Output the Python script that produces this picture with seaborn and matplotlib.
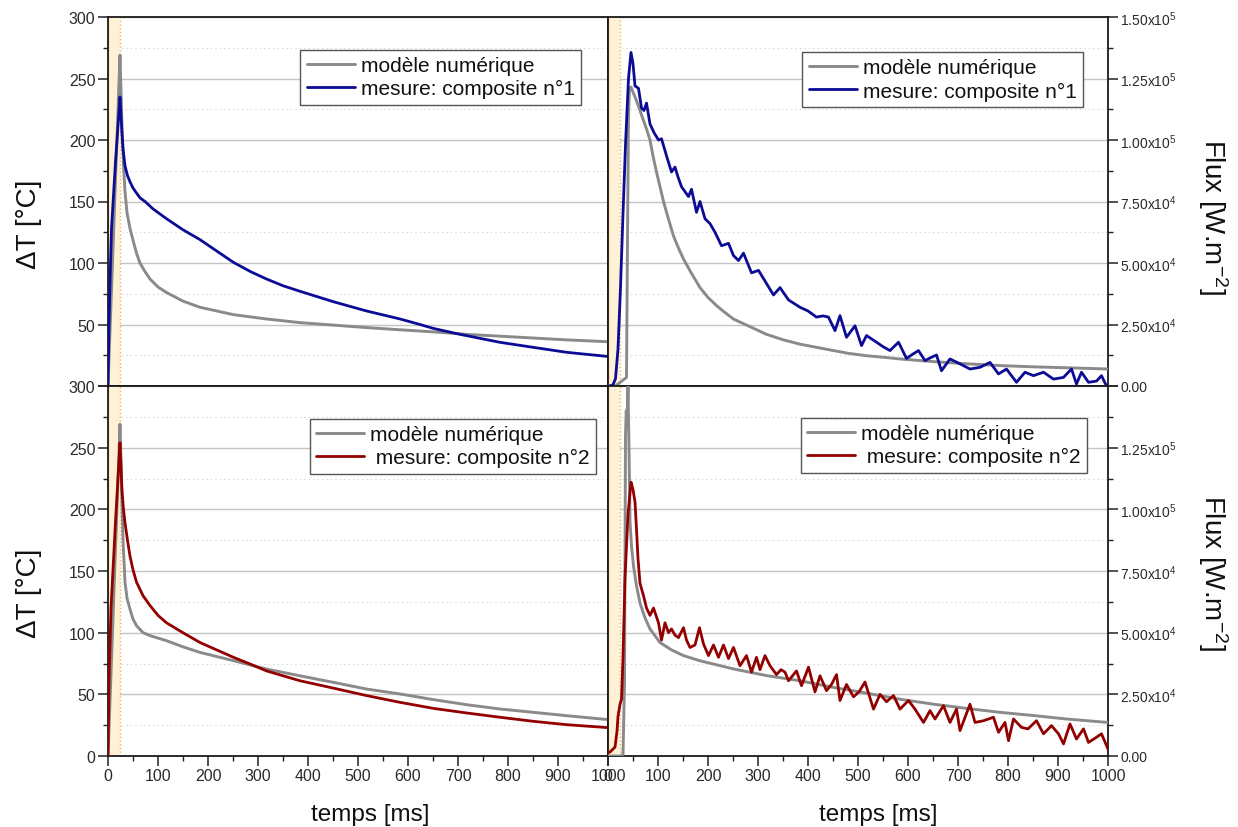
import numpy as np
import pandas as pd
import matplotlib
matplotlib.use("Agg")
import matplotlib.pyplot as plt
from matplotlib.ticker import MultipleLocator, FuncFormatter
import seaborn as sns

# ---------------- data ----------------
# Top-left: temperature, composite n°1
t_model_T1 = [0, 24, 26, 28, 31, 34, 38, 44, 51, 57, 64, 74, 84, 100, 117, 150, 184, 251,
              317, 384, 451, 517, 584, 651, 717, 784, 851, 917, 1000]
v_model_T1 = [0, 269, 240, 212, 180, 158, 141, 128, 117, 108, 100, 93, 87, 80.5, 76, 69,
              64, 58, 54.5, 51.5, 49.5, 47.5, 45.7, 44, 42, 40.5, 39, 37.5, 36]
t_meas_T1 = [0, 2, 5, 7, 15, 24, 26, 28, 30, 34, 39, 44, 50, 55, 64, 74, 90, 117, 150, 184,
             220, 251, 285, 317, 350, 384, 451, 517, 584, 624, 651, 704, 784, 851, 917,
             1000]
v_meas_T1 = [0, 50, 100, 128, 182, 235, 220, 205, 193, 179, 171, 166, 161, 158, 153, 150,
             144, 136, 127, 119, 109, 100.5, 93, 87, 81.5, 77, 68.5, 61, 54.5, 50, 46.8,
             42, 35.5, 31.4, 27.4, 24]

# Bottom-left: temperature, composite n°2
t_model_T2 = [0, 24, 26, 28, 30, 34, 38, 44, 50, 57, 70, 84, 117, 150, 184, 251, 317, 384,
              451, 517, 584, 651, 717, 784, 851, 917, 1000]
v_model_T2 = [0, 269, 240, 205, 175, 141, 128, 119, 111, 105.7, 100, 97.6, 93.5, 88.5,
              84, 77.3, 70.5, 65, 59.7, 54.3, 50.3, 45.7, 41.6, 38.1, 35.4, 32.7, 29.5]
t_meas_T2 = [0, 2, 6, 15, 24, 26, 28, 31, 34, 39, 44, 50, 57, 70, 84, 100, 117, 151, 184,
             251, 284, 317, 384, 451, 517, 584, 651, 717, 784, 851, 917, 1000]
v_meas_T2 = [0, 60, 120, 190, 254, 235, 215, 200, 189, 175, 162, 151, 141, 130, 122, 114,
             108, 99.7, 92, 80, 74.6, 69, 61, 55, 49, 43.5, 38.6, 34.9, 31.4, 28.1, 25.4,
             23]

# Top-right: flux, composite n°1
t_model_F1 = [0, 15, 37, 39, 41, 43, 46, 51, 56, 64, 70, 77, 84, 90, 97, 104, 111, 120,
              131, 140, 151, 165, 184, 200, 217, 230, 251, 280, 317, 350, 384, 420, 451,
              480, 517, 550, 584, 620, 651, 720, 784, 850, 920, 1000]
v_model_F1 = [0, 0, 3500, 60000, 110000, 121000, 121500, 119000, 116500, 112000, 108500,
              104500, 100000, 93500, 87000, 81000, 75000, 68500, 61000, 56500, 51600,
              46500, 40000, 36000, 32700, 30500, 27200, 24500, 21000, 18800, 17000, 15600,
              14400, 13300, 12300, 11700, 11000, 10400, 9900, 9000, 8300, 7800, 7400, 6900]
t_meas_F1 = [0, 4, 10, 15, 20, 25, 30, 35, 41, 46, 50, 54, 61, 67, 72, 77, 84, 92, 101,
             107, 117, 127, 134, 140, 147, 161, 167, 177, 184, 194, 204, 214, 227, 241,
             251, 261, 271, 287, 301, 316, 331, 344, 361, 384, 400, 417, 430, 441, 454,
             464, 477, 494, 507, 517, 537, 550, 564, 581, 597, 610, 621, 634, 645, 657,
             667, 684, 704, 724, 744, 764, 781, 797, 817, 834, 851, 871, 891, 911, 927,
             937, 947, 961, 977, 987, 997, 1000]
v_meas_F1 = [0, 0, 500, 3000, 15000, 40000, 70000, 98000, 125000, 135600, 131000, 122000,
             121000, 113000, 112000, 115000, 106500, 103000, 100000, 100500, 93600, 87000,
             89000, 85000, 81000, 77000, 80000, 70600, 75000, 68000, 66000, 62500, 57000,
             58000, 53000, 51000, 54000, 46000, 47000, 42000, 37000, 40000, 35000, 32000,
             30500, 28000, 28500, 28000, 22500, 28600, 19800, 24500, 16400, 20500, 17800,
             16000, 14400, 17800, 11200, 13000, 14400, 10300, 11500, 12600, 6200, 11000,
             9000, 6900, 7600, 9600, 4900, 6900, 1500, 5600, 4200, 5600, 2800, 3500, 6900,
             800, 5600, 1500, 2000, 4200, 0, 0]

# Bottom-right: flux, composite n°2
t_model_F2 = [0, 25, 30, 33, 35, 36.5, 38, 40, 42, 44, 47, 51, 57, 64, 74, 84, 104, 127,
              151, 184, 251, 317, 384, 451, 517, 584, 651, 717, 784, 851, 917, 1000]
v_model_F2 = [0, 0, 500, 30000, 130000, 140000, 135000, 150000, 125000, 95000, 85000,
              77000, 69000, 62000, 56000, 51500, 46000, 43000, 40700, 38600, 35300, 32600,
              30500, 27800, 25500, 23000, 21000, 19300, 17700, 16400, 15000, 13600]
t_meas_F2 = [0, 4, 14, 18, 20, 24, 27, 30, 34, 40, 46, 50, 54, 57, 60, 64, 71, 77, 84, 91,
             101, 107, 114, 121, 127, 134, 141, 151, 157, 164, 174, 183, 191, 201, 211,
             221, 231, 241, 251, 264, 277, 287, 297, 304, 314, 324, 337, 346, 354, 361,
             377, 387, 401, 414, 424, 437, 447, 457, 464, 477, 491, 502, 514, 531, 544,
             557, 571, 584, 601, 614, 631, 644, 654, 671, 684, 697, 704, 724, 734, 751,
             771, 781, 794, 801, 811, 827, 840, 857, 871, 887, 901, 911, 924, 937, 951,
             961, 977, 987, 1000]
v_meas_F2 = [1500, 1600, 3600, 10000, 16000, 21000, 23000, 40000, 72000, 98000, 111000,
             108000, 103000, 92000, 80000, 70000, 65000, 60000, 57000, 60000, 54000, 47000,
             54000, 50000, 51500, 49000, 48000, 52000, 47000, 44000, 45000, 52000, 45400,
             40700, 45000, 40000, 45000, 39500, 44000, 36600, 40700, 34000, 40000, 35000,
             40700, 36600, 33000, 35000, 34000, 30500, 34500, 28500, 36000, 26000, 32500,
             26500, 29000, 33000, 22500, 29000, 24000, 26000, 30000, 19000, 25000, 22000,
             24500, 19000, 22500, 19000, 13600, 18400, 15000, 20400, 13600, 19000, 10300,
             21000, 13600, 14300, 15700, 9600, 13600, 6200, 15000, 11600, 11000, 14300,
             9000, 12300, 9000, 4900, 13000, 6900, 11000, 5500, 7600, 9000, 2800]

label_model = "modèle numérique"
label_meas1 = "mesure: composite n°1"
label_meas2 = " mesure: composite n°2"
x_ticks = [0, 100, 200, 300, 400, 500, 600, 700, 800, 900, 1000]
T_ticks = [0, 50, 100, 150, 200, 250, 300]
F_ticks = [0, 25000, 50000, 75000, 100000, 125000, 150000]
band = (0, 24)

# ---------------- style ----------------
sns.set_theme(style="white")
plt.rcParams["font.family"] = ["Liberation Sans", "DejaVu Sans"]
plt.rcParams["mathtext.fontset"] = "custom"
plt.rcParams["mathtext.rm"] = "Liberation Sans"
plt.rcParams["mathtext.it"] = "Liberation Sans:italic"
plt.rcParams["mathtext.bf"] = "Liberation Sans:bold"

GRAY = "#8a8a8a"
BLUE = "#0b0b96"
RED = "#930000"

W, H = 1238, 828
fig = plt.figure(figsize=(W / 100, H / 100), dpi=100)
fig.patch.set_facecolor("white")


def rect(x0, y0, x1, y1):
    return [x0 / W, 1 - y1 / H, (x1 - x0) / W, (y1 - y0) / H]


ax_tl = fig.add_axes(rect(108, 18, 608, 387))
ax_tr = fig.add_axes(rect(608, 18, 1108, 387))
ax_bl = fig.add_axes(rect(108, 387, 608, 757))
ax_br = fig.add_axes(rect(608, 387, 1108, 757))


def flux_fmt(hide_top):
    def f(v, pos):
        if abs(v) < 1e-6:
            return "0.00"
        if hide_top and v >= 149999:
            return ""
        e = int(np.floor(np.log10(v)))
        m = v / 10 ** e
        return f"{m:.2f}x10$^{{{e}}}$"
    return f


def temp_fmt(hide_zero):
    def f(v, pos):
        if hide_zero and abs(v) < 1e-6:
            return ""
        return f"{int(round(v))}"
    return f


panels = [
    (ax_tl, t_model_T1, v_model_T1, t_meas_T1, v_meas_T1, BLUE, label_meas1, "T", True, (0.946, 0.911)),
    (ax_bl, t_model_T2, v_model_T2, t_meas_T2, v_meas_T2, RED, label_meas2, "T", False, (0.976, 0.911)),
    (ax_tr, t_model_F1, v_model_F1, t_meas_F1, v_meas_F1, BLUE, label_meas1, "F", True, (0.950, 0.905)),
    (ax_br, t_model_F2, v_model_F2, t_meas_F2, v_meas_F2, RED, label_meas2, "F", False, (0.958, 0.914)),
]

for ax, tm, vm, ts, vs, col, lab, kind, top, anchor in panels:
    ax.set_facecolor("white")
    ax.axvspan(band[0], band[1], facecolor="#fff1d6", edgecolor="none", zorder=1.2)
    ax.axvline(band[1], color="#f2b35c", lw=1.0, ls=":", zorder=1.3)
    ax.axvline(band[0] + 0.6, color="#f2c27a", lw=1.0, ls="-", zorder=1.3)
    sns.lineplot(x=tm, y=vm, ax=ax, color=GRAY, lw=2.1, label=label_model,
                 estimator=None, sort=False, zorder=3)
    sns.lineplot(x=ts, y=vs, ax=ax, color=col, lw=2.0, label=lab,
                 estimator=None, sort=False, zorder=4)
    ax.set_xlim(0, 1000)
    ax.set_xticks(x_ticks)
    ax.xaxis.set_minor_locator(MultipleLocator(50))
    if kind == "T":
        ax.set_ylim(0, 300)
        ax.set_yticks(T_ticks)
        ax.yaxis.set_minor_locator(MultipleLocator(25))
        ax.yaxis.set_major_formatter(FuncFormatter(temp_fmt(top)))
        ax.tick_params(axis="y", which="both", left=True, right=False, labelleft=True,
                       labelright=False)
        ax.tick_params(axis="y", labelsize=11.5)
    else:
        ax.set_ylim(0, 150000)
        ax.set_yticks(F_ticks)
        ax.yaxis.set_minor_locator(MultipleLocator(12500))
        ax.yaxis.tick_right()
        ax.yaxis.set_major_formatter(FuncFormatter(flux_fmt(not top)))
        ax.tick_params(axis="y", which="both", left=False, right=True, labelleft=False,
                       labelright=True)
        ax.tick_params(axis="y", labelsize=10)
    ax.tick_params(axis="both", which="major", direction="out", length=7, width=1.1,
                   color="#222222", labelcolor="#2a2a2a", pad=2)
    ax.tick_params(axis="both", which="minor", direction="out", length=3.6, width=1.0,
                   color="#222222")
    if top:
        ax.tick_params(axis="x", which="both", bottom=False, labelbottom=False)
    else:
        ax.tick_params(axis="x", which="both", bottom=True, labelbottom=True,
                       labelsize=11.5)
    ax.set_xlabel("")
    ax.set_ylabel("")
    ax.grid(False)
    ax.set_axisbelow(True)
    ax.yaxis.grid(True, which="major", color="#c4c4c4", lw=1.0, ls="-")
    ax.yaxis.grid(True, which="minor", color="#dcdcdc", lw=0.8, ls=(0, (1.5, 2.5)))
    for s in ax.spines.values():
        s.set_visible(True)
        s.set_color("#1a1a1a")
        s.set_linewidth(1.3)
    leg = ax.legend(loc="upper right", bbox_to_anchor=anchor, borderaxespad=0,
                    fontsize=15, frameon=True, fancybox=False, framealpha=1,
                    edgecolor="#555555", handlelength=2.3, handletextpad=0.3,
                    borderpad=0.3, labelspacing=0.2)
    leg.get_frame().set_linewidth(1.0)
    for txt in leg.get_texts():
        txt.set_color("#111111")

# axis titles
fig.text(29 / W, 1 - 224 / H, "ΔT [°C]", rotation=90, ha="center", va="center",
         fontsize=20, color="#111111")
fig.text(29 / W, 1 - 593 / H, "ΔT [°C]", rotation=90, ha="center", va="center",
         fontsize=20, color="#111111")
fig.text(1213 / W, 1 - 217 / H, r"Flux [W.m$^{-2}$]", rotation=270, ha="center",
         va="center", fontsize=20, color="#111111")
fig.text(1213 / W, 1 - 573 / H, r"Flux [W.m$^{-2}$]", rotation=270, ha="center",
         va="center", fontsize=20, color="#111111")
fig.text(370 / W, 1 - 815 / H, "temps [ms]", ha="center", va="center", fontsize=17.5,
         color="#111111")
fig.text(878 / W, 1 - 815 / H, "temps [ms]", ha="center", va="center", fontsize=17.5,
         color="#111111")

fig.savefig("out.png", dpi=100, facecolor="white")
